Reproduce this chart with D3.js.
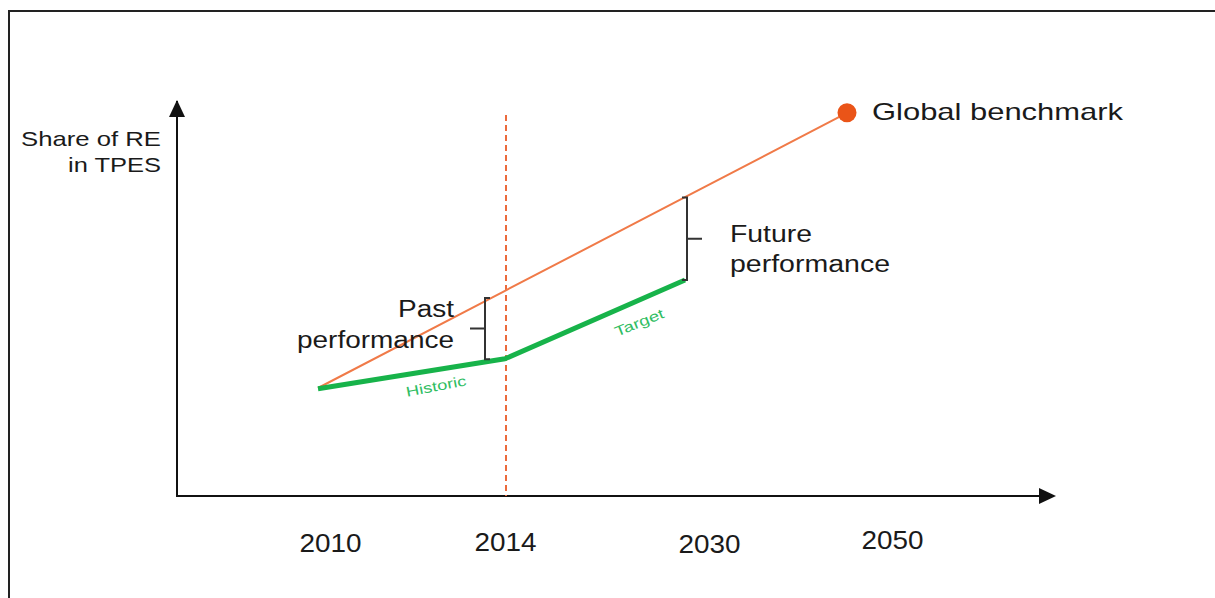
<!DOCTYPE html>
<html lang="en">
<head>
  <meta charset="utf-8">
  <title>Share of RE in TPES</title>
  <script src="https://d3js.org/d3.v7.min.js"></script>
  <style>
    body { margin: 0; background: #fff; }
    text { font-family: "Liberation Sans", Arial, sans-serif; fill: #1a1a1a; }
  </style>
</head>
<body>
<svg id="chart" width="1215" height="598"></svg>
<script>
  // data
  var years = [2010, 2014, 2030, 2050];
  var benchmark = [27, 51.3, 74.7, 95.8];       // straight global benchmark line
  var historicYears = [2010, 2014];
  var historic = [26.8, 34.3];
  var targetYears = [2014, 2030];
  var target = [34.3, 54];
  var tickLabels = ["2010", "2014", "2030", "2050"];

  var svg = d3.select("#chart"),
      originX = 177,
      originY = 496;

  var x = d3.scaleLinear().domain(years).range([318, 505, 685, 847]),
      y = d3.scaleLinear().domain([0, 100]).range([originY, 96]);

  // frame (top + left only)
  svg.append("path")
    .attr("d", "M9,598 L9,11 L1215,11")
    .attr("fill", "none")
    .attr("stroke", "#222")
    .attr("stroke-width", 2);

  // axes
  svg.append("line")
    .attr("x1", originX).attr("y1", originY)
    .attr("x2", originX).attr("y2", 101)
    .attr("stroke", "#111").attr("stroke-width", 2);
  svg.append("path")
    .attr("d", "M" + originX + ",100 l-8,17 l16,0 Z")
    .attr("fill", "#111");
  svg.append("line")
    .attr("x1", originX - 1).attr("y1", originY)
    .attr("x2", 1040).attr("y2", originY)
    .attr("stroke", "#111").attr("stroke-width", 2);
  svg.append("path")
    .attr("d", "M1056," + originY + " l-17,-8 l0,16 Z")
    .attr("fill", "#111");

  // year labels
  var labelDx = [12, 0, 24, 45],
      labelDy = [0, -1, 1, -3];
  var xAxis = svg.append("g")
    .attr("transform", "translate(0," + originY + ")")
    .call(d3.axisBottom(x).tickValues(years).tickSize(0).tickFormat(function(d, i) { return tickLabels[i]; }));
  xAxis.select(".domain").remove();
  xAxis.selectAll("text")
    .attr("font-family", null)
    .attr("font-size", 26)
    .attr("fill", "#1a1a1a")
    .attr("y", 0)
    .attr("dy", null)
    .attr("transform", function(d, i) { return "translate(" + labelDx[i] + "," + (56 + labelDy[i]) + ")"; })
    .attr("textLength", 62)
    .attr("lengthAdjust", "spacingAndGlyphs");

  // y axis title
  svg.append("text").attr("x", 161).attr("y", 146).attr("text-anchor", "end")
    .attr("font-size", 21).attr("textLength", 140).attr("lengthAdjust", "spacingAndGlyphs")
    .text("Share of RE");
  svg.append("text").attr("x", 161).attr("y", 172).attr("text-anchor", "end")
    .attr("font-size", 21).attr("textLength", 93).attr("lengthAdjust", "spacingAndGlyphs")
    .text("in TPES");

  // 2014 divider
  svg.append("line")
    .attr("x1", x(2014) + 1).attr("x2", x(2014) + 1)
    .attr("y1", 115).attr("y2", originY)
    .attr("stroke", "#ec6a3c").attr("stroke-width", 2)
    .attr("stroke-dasharray", "6,4");

  var line = d3.line()
    .x(function(d) { return x(d[0]); })
    .y(function(d) { return y(d[1]); });

  // benchmark
  svg.append("path")
    .datum(d3.zip(years, benchmark))
    .attr("d", line)
    .attr("fill", "none")
    .attr("stroke", "#f07a48")
    .attr("stroke-width", 2);
  svg.append("circle")
    .attr("cx", x(2050)).attr("cy", y(benchmark[3]))
    .attr("r", 9.5)
    .attr("fill", "#ea5418");
  svg.append("text").attr("x", 872).attr("y", 120)
    .attr("font-size", 24).attr("textLength", 251).attr("lengthAdjust", "spacingAndGlyphs")
    .text("Global benchmark");

  // historic + target
  var green = d3.zip(historicYears, historic).concat(d3.zip(targetYears, target).slice(1));
  svg.append("path")
    .datum(green)
    .attr("d", line)
    .attr("fill", "none")
    .attr("stroke", "#17b34a")
    .attr("stroke-width", 5)
    .attr("stroke-linejoin", "round");

  svg.append("text")
    .attr("transform", "translate(437,391) rotate(-11)")
    .attr("text-anchor", "middle")
    .attr("font-size", 14)
    .attr("textLength", 61).attr("lengthAdjust", "spacingAndGlyphs")
    .style("fill", "#2fbd62")
    .text("Historic");
  svg.append("text")
    .attr("transform", "translate(641,327) rotate(-22)")
    .attr("text-anchor", "middle")
    .attr("font-size", 14)
    .attr("textLength", 52).attr("lengthAdjust", "spacingAndGlyphs")
    .style("fill", "#2fbd62")
    .text("Target");

  // brackets
  function bracket(bx, yTop, yBot, dir) {
    var mid = (yTop + yBot) / 2;
    var h = 5 * -dir;
    svg.append("path")
      .attr("d", "M" + (bx + h) + "," + yTop + " L" + bx + "," + yTop + " L" + bx + "," + yBot + " L" + (bx + h) + "," + yBot +
                 " M" + bx + "," + mid + " L" + (bx + dir * 15) + "," + mid)
      .attr("fill", "none")
      .attr("stroke", "#333")
      .attr("stroke-width", 2);
  }
  bracket(x(2014) - 20, y(49.5), y(34.2), -1);
  bracket(x(2030) + 2, y(74.6), y(54), 1);

  svg.append("text").attr("x", 454).attr("y", 317).attr("text-anchor", "end")
    .attr("font-size", 23).attr("textLength", 56).attr("lengthAdjust", "spacingAndGlyphs")
    .text("Past");
  svg.append("text").attr("x", 454).attr("y", 348).attr("text-anchor", "end")
    .attr("font-size", 23).attr("textLength", 157).attr("lengthAdjust", "spacingAndGlyphs")
    .text("performance");
  svg.append("text").attr("x", 730).attr("y", 242)
    .attr("font-size", 23).attr("textLength", 82).attr("lengthAdjust", "spacingAndGlyphs")
    .text("Future");
  svg.append("text").attr("x", 730).attr("y", 272)
    .attr("font-size", 23).attr("textLength", 160).attr("lengthAdjust", "spacingAndGlyphs")
    .text("performance");
</script>
</body>
</html>
